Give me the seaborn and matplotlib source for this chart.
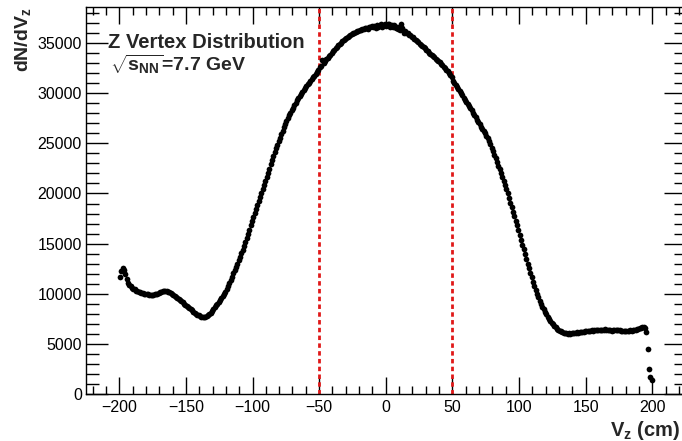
import numpy as np
import pandas as pd
import matplotlib
matplotlib.use("Agg")
import matplotlib.pyplot as plt
from matplotlib.ticker import MultipleLocator
import seaborn as sns

# ---- data (1 cm bins from -200 to 200) ----
bin_lo = -200
bin_width = 1
counts = [
    11700, 12300, 12600, 12400, 12000, 11500, 11100, 10900, 10800, 10600,
    10500, 10450, 10300, 10250, 10200, 10150, 10100, 10050, 10000, 9980,
    10000, 9950, 9900, 9880, 9900, 9920, 9950, 10000, 10020, 10080,
    10150, 10200, 10250, 10280, 10250, 10230, 10200, 10150, 10100, 10000,
    9900, 9800, 9700, 9580, 9450, 9350, 9250, 9150, 9000, 8900,
    8800, 8700, 8600, 8450, 8350, 8200, 8100, 8000, 7900, 7850,
    7780, 7720, 7700, 7680, 7720, 7750, 7850, 7950, 8100, 8250,
    8450, 8650, 8850, 9000, 9150, 9350, 9550, 9750, 9950, 10200,
    10500, 10800, 11100, 11400, 11700, 12050, 12350, 12650, 13000, 13350,
    13700, 14050, 14400, 14800, 15200, 15600, 16000, 16400, 16850, 17300,
    17700, 18100, 18500, 18900, 19250, 19650, 20050, 20450, 20800, 21200,
    21600, 22050, 22450, 22900, 23350, 23750, 24150, 24500, 24850, 25200,
    25550, 25900, 26250, 26600, 26900, 27200, 27500, 27800, 28050, 28300,
    28550, 28800, 29050, 29300, 29500, 29700, 29950, 30150, 30350, 30550,
    30700, 30900, 31050, 31250, 31400, 31600, 31750, 31900, 32100, 32300,
    32600, 32700, 33300, 33050, 33200, 33400, 33550, 33700, 33850, 34000,
    34200, 34350, 34500, 34650, 34800, 34950, 35050, 35200, 35300, 35450,
    35550, 35650, 35750, 35850, 35900, 36000, 36050, 36150, 36200, 36250,
    36300, 36350, 36400, 36450, 36500, 36550, 36450, 36600, 36650, 36700,
    36600, 36750, 36550, 36850, 36650, 36800, 36900, 36600, 36850, 36950,
    36750, 36900, 36950, 36650, 36850, 36600, 36800, 36550, 36650, 36450,
    36350, 36900, 36500, 36050, 36250, 36000, 36050, 35850, 35800, 35650,
    35600, 35450, 35350, 35250, 35100, 34950, 34850, 34700, 34600, 34500,
    34300, 34200, 34050, 33950, 33850, 33700, 33600, 33450, 33350, 33200,
    33100, 32950, 32800, 32650, 32500, 32350, 32200, 32000, 31800, 31600,
    31250, 31050, 30850, 30650, 30450, 30250, 30000, 29800, 29550, 29300,
    29100, 28900, 28700, 28500, 28300, 28050, 27800, 27600, 27350, 27100,
    26900, 26650, 26450, 26250, 26000, 25750, 25500, 25200, 24900, 24550,
    24200, 23850, 23500, 23150, 22750, 22400, 22000, 21650, 21250, 20850,
    20450, 20000, 19550, 19100, 18650, 18200, 17750, 17300, 16850, 16350,
    15850, 15400, 14900, 14450, 13950, 13500, 13000, 12550, 12100, 11650,
    11200, 10800, 10400, 10000, 9650, 9300, 9000, 8700, 8450, 8200,
    7950, 7700, 7500, 7300, 7100, 6950, 6800, 6650, 6500, 6400,
    6300, 6250, 6180, 6120, 6080, 6050, 6030, 6050, 6020, 6040,
    6050, 6080, 6100, 6150, 6120, 6180, 6200, 6230, 6200, 6250,
    6280, 6300, 6270, 6320, 6350, 6300, 6380, 6350, 6400, 6370,
    6350, 6400, 6420, 6380, 6450, 6400, 6380, 6420, 6350, 6330,
    6380, 6400, 6370, 6420, 6400, 6350, 6300, 6320, 6280, 6300,
    6270, 6320, 6300, 6350, 6330, 6380, 6420, 6400, 6450, 6500,
    6550, 6600, 6650, 6700, 6600, 6200, 4500, 2500, 1700, 1400,
]
cut_lines = [-50, 50]
title_lines = ["Z Vertex Distribution", r"$\sqrt{s_{NN}}$=7.7 GeV"]
xlabel = r"V$_{z}$ (cm)"
ylabel = r"dN/dV$_{z}$"

vz = bin_lo + bin_width * (np.arange(len(counts)) + 0.5)
df = pd.DataFrame({"vz": vz, "n": counts})

# ---- style ----
sns.set_style("ticks")
plt.rcParams["font.family"] = ["Liberation Sans", "DejaVu Sans"]
plt.rcParams["mathtext.fontset"] = "custom"
plt.rcParams["mathtext.rm"] = "Liberation Sans:bold"
plt.rcParams["mathtext.it"] = "Liberation Sans:bold"
plt.rcParams["mathtext.bf"] = "Liberation Sans:bold"
plt.rcParams["mathtext.default"] = "bf"

fig = plt.figure(figsize=(6.82, 4.41), dpi=100)
ax = fig.add_axes([86 / 682, 47 / 441, 599.5 / 682, 387 / 441])

sns.scatterplot(data=df, x="vz", y="n", ax=ax, color="black", marker="o",
                s=17, linewidth=0, legend=False, zorder=3)

for xc in cut_lines:
    ax.axvline(xc, color="#e01818", lw=2.0, linestyle=(0, (1.6, 1.2)), zorder=2)

ax.set_xlim(-225, 225)
ax.set_ylim(0, 38600)
ax.xaxis.set_major_locator(MultipleLocator(50))
ax.xaxis.set_minor_locator(MultipleLocator(10))
ax.yaxis.set_major_locator(MultipleLocator(5000))
ax.yaxis.set_minor_locator(MultipleLocator(1000))

ax.tick_params(axis="both", which="both", direction="in", top=True, right=True,
               colors="black", labelsize=11.5, width=1.0)
ax.tick_params(axis="x", which="major", length=12, pad=4)
ax.tick_params(axis="x", which="minor", length=6)
ax.tick_params(axis="y", which="major", length=16, pad=3)
ax.tick_params(axis="y", which="minor", length=9)
for sp in ax.spines.values():
    sp.set_color("black")
    sp.set_linewidth(1.0)

ax.set_xlabel("")
ax.set_ylabel("")
fig.text(680 / 682, 5 / 441, xlabel, ha="right", va="baseline",
         fontsize=14.5, fontweight="bold")
fig.text(13 / 682, 1 - 7 / 441, ylabel, ha="left", va="top", rotation=90,
         fontsize=14, fontweight="bold")

fig.text(108 / 682, 1 - 48 / 441, title_lines[0], ha="left", va="baseline",
         fontsize=14.5, fontweight="bold")
fig.text(110 / 682, 1 - 71 / 441, title_lines[1], ha="left", va="baseline",
         fontsize=14, fontweight="bold")

fig.savefig("out.png", dpi=100)
